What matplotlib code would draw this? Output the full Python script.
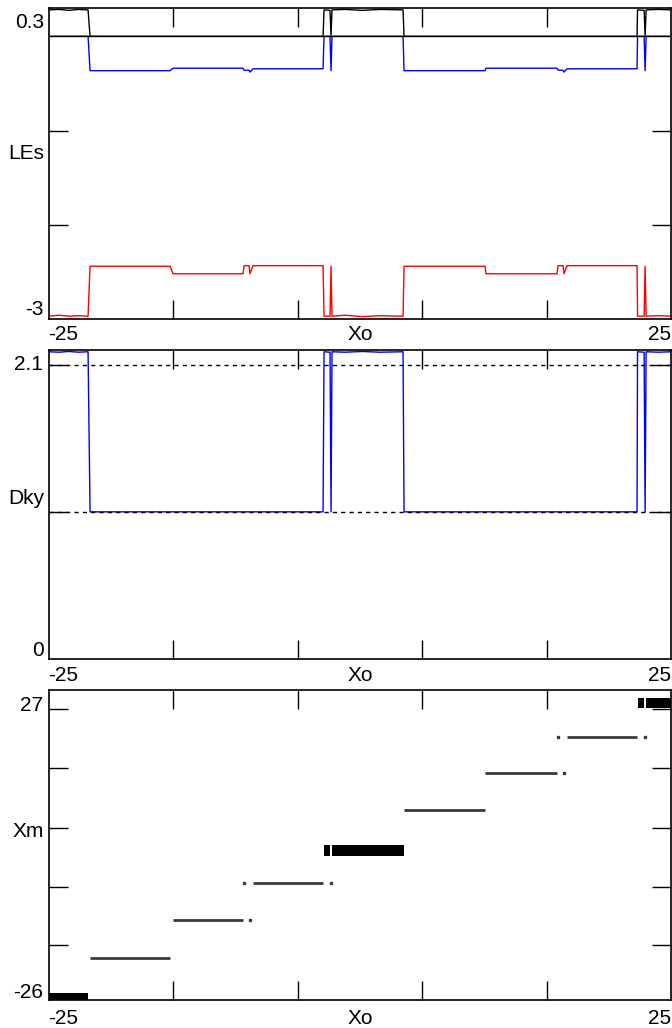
import matplotlib.pyplot as plt

plt.rcParams['font.family'] = ['Liberation Sans', 'DejaVu Sans']

# Xo values where the curves change (shared by all series of the top two panels)
xo = [-25.0, -24.2, -23.4, -22.6, -21.86, -21.70, -15.27, -15.03, -9.40, -9.32,
      -8.92, -8.84, -8.60, -2.97, -2.89, -2.41, -2.33, -2.25, -1.2, 0.2,
      1.6, 3.46, 3.54, 10.05, 10.13, 15.84, 15.92, 16.32, 16.40, 16.64,
      22.27, 22.31, 22.84, 22.92, 23.00, 24.0, 25.0]

# Lyapunov exponents
le1 = [0.28, 0.285, 0.275, 0.285, 0.28, 0, 0, 0, 0, 0,
       0, 0, 0, 0, 0.28, 0.275, 0, 0.28, 0.285, 0.275,
       0.285, 0.28, 0, 0, 0, 0, 0, 0, 0, 0,
       0, 0.28, 0.275, 0, 0.28, 0.285, 0.28]
le2 = [0, 0, 0, 0, 0, -0.365, -0.365, -0.339, -0.339, -0.36,
       -0.36, -0.38, -0.345, -0.345, 0, 0, -0.365, 0, 0, 0,
       0, 0, -0.365, -0.365, -0.339, -0.339, -0.36, -0.36, -0.38, -0.345,
       -0.345, 0, 0, -0.365, 0, 0, 0]
le3 = [-2.97, -2.96, -2.97, -2.965, -2.97, -2.44, -2.44, -2.52, -2.52, -2.434,
       -2.434, -2.52, -2.434, -2.434, -2.97, -2.97, -2.44, -2.97, -2.96, -2.975,
       -2.965, -2.97, -2.44, -2.44, -2.52, -2.52, -2.434, -2.434, -2.52, -2.434,
       -2.434, -2.97, -2.97, -2.44, -2.97, -2.965, -2.97]

# Kaplan-Yorke dimension
dky = [2.088, 2.085, 2.09, 2.085, 2.088, 1, 1, 1, 1, 1,
       1, 1, 1, 1, 2.088, 2.085, 1, 2.088, 2.085, 2.09,
       2.085, 2.088, 1, 1, 1, 1, 1, 1, 1, 1,
       1, 2.088, 2.085, 1, 2.088, 2.085, 2.088]

# Xm: single-valued plateaus
xm_line_start = [-21.70, -15.03, -8.60, 3.54, 10.05, 16.64]
xm_line_end = [-15.27, -9.40, -2.97, 10.05, 15.84, 22.27]
xm_line_val = [-18.87, -12.3, -6.0, 6.48, 12.8, 18.96]
# isolated points in the narrow windows
xm_dot_x = [-8.84, -9.32, -2.33, 16.40, 15.92, 22.88]
xm_dot_val = [-12.3, -6.0, -6.0, 12.8, 18.96, 18.96]
# chaotic bands
xm_band_start = [-25.0, -2.89, -2.25, 22.31, 23.00]
xm_band_end = [-21.86, -2.41, 3.54, 22.84, 25.0]
xm_band_low = [-26.0, -1.38, -1.38, 23.9, 23.9]
xm_band_high = [-24.75, 0.5, 0.5, 25.6, 25.6]

W, H = 672, 1028
fig = plt.figure(figsize=(W / 100, H / 100), dpi=100)


def box(l, t, r, b):
    return [l / W, 1 - b / H, (r - l) / W, (b - t) / H]


def label(x, y, s, ha):
    fig.text(x / W, 1 - y / H, s, ha=ha, va='baseline', fontsize=15)


def style(ax, ylim, yticks):
    ax.set_xlim(-25, 25)
    ax.set_ylim(*ylim)
    ax.set_xticks([-15, -5, 5, 15])
    ax.set_yticks(yticks)
    ax.tick_params(direction='in', length=13.5, width=1.0, top=True, right=True,
                   labelbottom=False, labelleft=False)
    for s in ax.spines.values():
        s.set_linewidth(1.2)


ax1 = fig.add_axes(box(49, 8, 671, 319))
ax2 = fig.add_axes(box(49, 350, 671, 659))
ax3 = fig.add_axes(box(49, 690, 671, 1000))

# top panel: LEs
ax1.plot(xo, le3, color='red', lw=1.0)
ax1.plot(xo, le2, color='blue', lw=1.0)
ax1.plot(xo, le1, color='black', lw=1.0)
ax1.axhline(0, color='black', lw=1.0, zorder=3)
style(ax1, (-3, 0.3), [-1, -2])

# middle panel: Dky
ax2.plot(xo, dky, color='blue', lw=1.0)
ax2.axhline(1, color='black', lw=1.0, dashes=(3, 3), zorder=3)
ax2.axhline(2, color='black', lw=1.0, dashes=(3, 3), zorder=3)
style(ax2, (0, 2.1), [1, 2])

# bottom panel: Xm
ax3.hlines(xm_line_val, xm_line_start, xm_line_end, color='#3a3a3a', lw=2.0)
ax3.plot(xm_dot_x, xm_dot_val, ls='none', marker='s', ms=1.6, color='#3a3a3a')
ax3.bar(xm_band_start,
        [h - l for h, l in zip(xm_band_high, xm_band_low)],
        width=[e - s for e, s in zip(xm_band_end, xm_band_start)],
        bottom=xm_band_low, align='edge', color='black', linewidth=0)
style(ax3, (-26, 27), [23.75, 13.65, 3.4, -6.7, -16.6])

# axis texts
label(44, 28, '0.3', 'right')
label(44, 159, 'LEs', 'right')
label(44, 315, '-3', 'right')
label(48, 340, '-25', 'left')
label(360, 340, 'Xo', 'center')
label(671, 340, '25', 'right')

label(43, 370, '2.1', 'right')
label(44, 504, 'Dky', 'right')
label(44, 656, '0', 'right')
label(48, 681, '-25', 'left')
label(360, 681, 'Xo', 'center')
label(671, 681, '25', 'right')

label(43, 711, '27', 'right')
label(44, 837, 'Xm', 'right')
label(43, 998, '-26', 'right')
label(48, 1024, '-25', 'left')
label(360, 1024, 'Xo', 'center')
label(671, 1024, '25', 'right')

fig.savefig('out.png', dpi=100)
